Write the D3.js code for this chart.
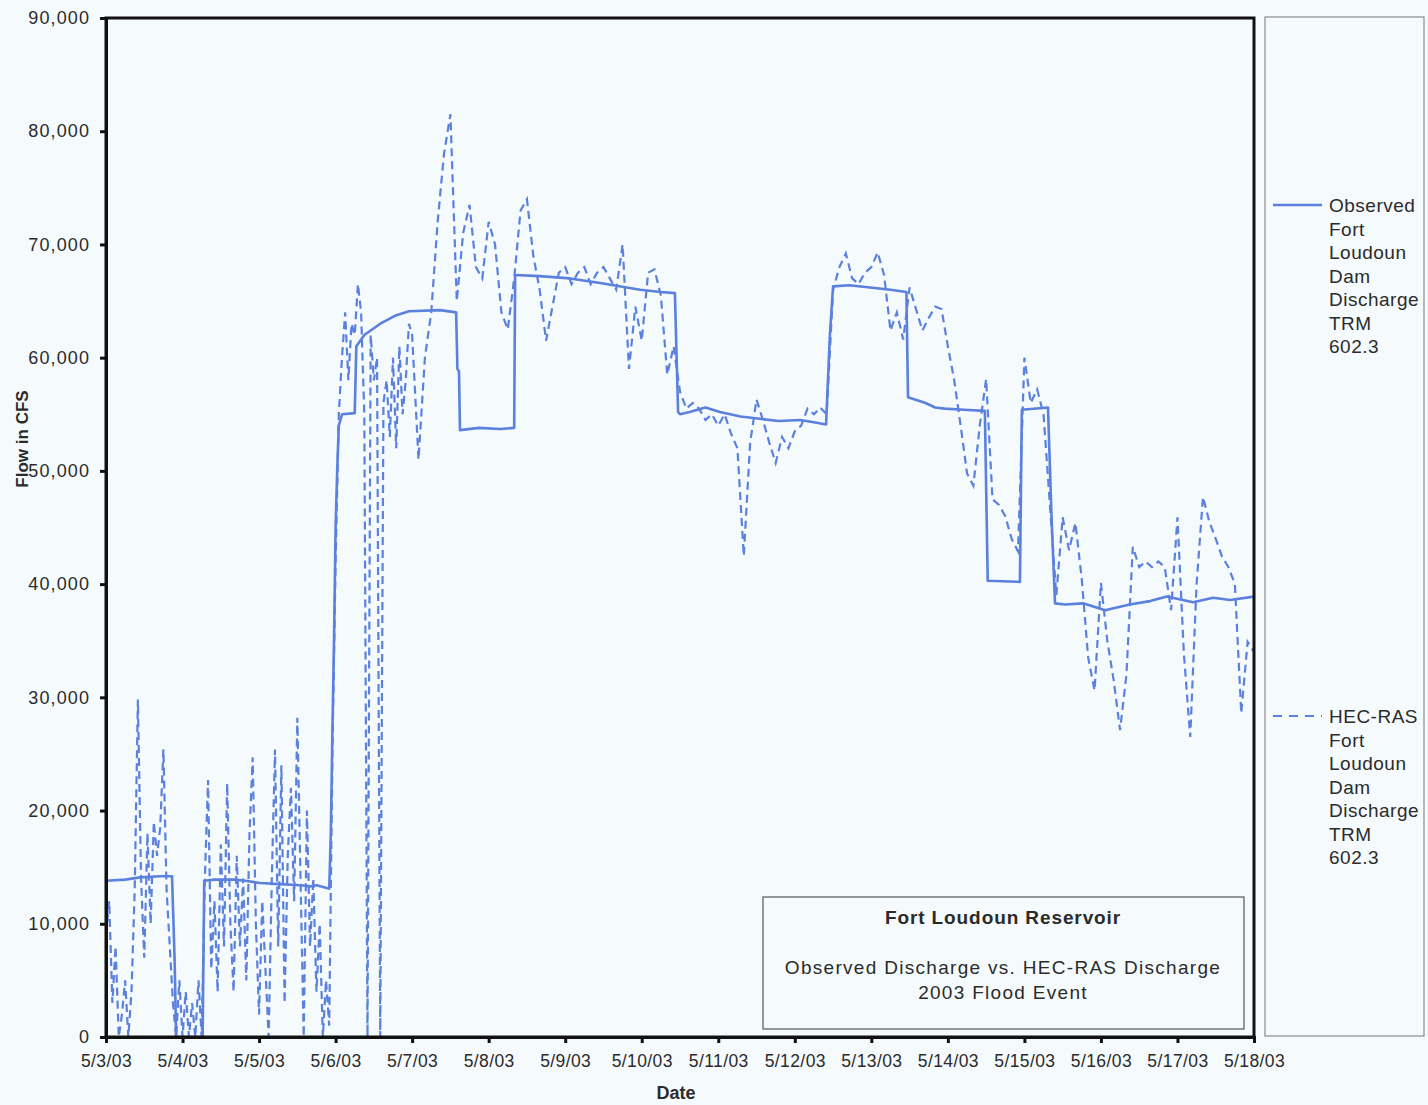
<!DOCTYPE html>
<html>
<head>
<meta charset="utf-8">
<script src="https://cdn.jsdelivr.net/npm/d3@7"></script>
<style>
  html, body { margin: 0; padding: 0; background: #f5fafc; }
  svg { display: block; }
  text { font-family: "Liberation Sans", Arial, sans-serif; fill: #2b2b2b; }
</style>
</head>
<body>
<svg id="chart" width="1428" height="1105"></svg>
<script>
// Date tick labels, one per day (hours since 5/3/03 00:00 = index * 24)
const dateLabels = ["5/3/03","5/4/03","5/5/03","5/6/03","5/7/03","5/8/03","5/9/03","5/10/03",
  "5/11/03","5/12/03","5/13/03","5/14/03","5/15/03","5/16/03","5/17/03","5/18/03"];
const flowTicks = [0, 10000, 20000, 30000, 40000, 50000, 60000, 70000, 80000, 90000];

// Observed Fort Loudoun Dam discharge: hours since start, flow in CFS
const obsHours = [
  0, 6, 10.7, 17, 20.7, 21.5, 22,
  30.3, 30.8, 34, 40.5, 43.6,
  48.3, 54.6, 61, 64, 66, 68.7, 70, 70.5, 71, 71.5,
  72, 72.5, 73, 74, 78, 78.5, 81, 86, 90.6, 95,
  104.7, 109.8, 110.2, 110.7, 111, 117,
  123.6, 128, 128.3, 136,
  145.5, 155, 161, 167.5,
  174, 178.4, 179.4, 180, 183, 188,
  192.5, 199, 205, 211,
  217.6, 222, 225.8, 227, 228, 233,
  239.6, 246, 251, 251.5, 257, 260,
  263, 269, 275.6, 276.5, 286.6, 287.2,
  295.4, 296.5, 297.6, 300.7, 306.4,
  313.3, 321, 327.4, 332.7,
  340.9, 347.2, 352.5, 360
];
const obsFlow = [
  13800, 13900, 14100, 14200, 14200, 7000, 0,
  0, 13800, 13900, 13900, 13800,
  13600, 13500, 13400, 13300, 13400, 13200, 13100, 18000, 27000, 35000,
  45000, 50000, 54000, 55000, 55100, 61000, 62000, 63000, 63700, 64100,
  64200, 64000, 59000, 58800, 53600, 53800,
  53700, 53800, 67300, 67200,
  67000, 66600, 66300, 66000,
  65800, 65700, 55200, 55000, 55200, 55600,
  55200, 54800, 54600, 54400,
  54500, 54300, 54100, 62000, 66300, 66400,
  66200, 66000, 65800, 56500, 56000, 55600,
  55500, 55400, 55300, 40300, 40200, 55400,
  55600, 46000, 38300, 38200, 38300,
  37700, 38200, 38500, 38900,
  38400, 38800, 38600, 38900
];

// HEC-RAS computed discharge: hourly through 5/6/03, then every 2 hours (CFS)
const hecHours = d3.range(0, 96).concat(d3.range(96, 361, 2));
const hecFlow = [
  // 5/3/03, hourly
  9000, 12000, 3000, 8000, 0, 2000, 5000, 0, 4000, 13000, 29800, 14000,
  7000, 18000, 10000, 19000, 16000, 18500, 25400, 13000, 8000, 3000, 0, 5000,
  // 5/4/03, hourly
  0, 4000, 0, 3000, 0, 5000, 0, 14000, 22700, 6000, 12000, 4000,
  17000, 8000, 22400, 10000, 4000, 16000, 8000, 14000, 5000, 18000, 24700, 10000,
  // 5/5/03, hourly
  2000, 12000, 6000, 0, 14000, 25400, 8000, 24000, 3000, 16000, 22000, 12000,
  28200, 14000, 0, 20000, 8000, 14000, 4000, 10000, 0, 5000, 1000, 25000,
  // 5/6/03, hourly
  42000, 55000, 60000, 64000, 58000, 63000, 62000, 66500, 64000, 55000, 0, 62000,
  58000, 60000, 0, 56000, 58000, 53000, 60000, 52000, 61000, 55000, 58000, 63000,
  // 5/7/03 onward, every 2 hours
  62000, 51000, 60000, 64000, 72000, 78000, 81500, 65000, 71000, 73500, 68000, 67000,
  72000, 70000, 64000, 62500, 67000, 73000, 74000, 69000, 66000, 61500, 64500, 67500,
  68000, 66500, 67500, 68000, 66500, 67500, 68000, 67000, 66000, 70000, 59000, 64500,
  61500, 67500, 67800, 65500, 58500, 61000, 57000, 55500, 56000, 55500, 54500, 55000,
  54000, 55000, 53300, 52000, 42500, 52500, 56300, 54500, 52500, 50700, 53000, 52000,
  53500, 54000, 55500, 55000, 55600, 55000, 66000, 68000, 69200, 67000, 66500, 67500,
  68000, 69300, 67300, 62400, 64000, 61600, 66200, 64300, 62400, 63500, 64500, 64300,
  61000, 58000, 54000, 49800, 48700, 54000, 58100, 47500, 47000, 46000, 44000, 42900,
  60000, 56000, 57200, 55000, 47000, 39000, 45900, 43000, 45400, 40400, 33500, 30600,
  40100, 35000, 31500, 27100, 32000, 43300, 41500, 42000, 41500, 42000, 41500, 37700,
  45900, 33900, 26500, 40000, 47700, 45500, 44000, 42400, 41500, 40000, 28600, 34900, 34000
];

const legendObserved = ["Observed", "Fort", "Loudoun", "Dam", "Discharge", "TRM", "602.3"];
const legendHec = ["HEC-RAS", "Fort", "Loudoun", "Dam", "Discharge", "TRM", "602.3"];
const titleLines = ["Observed Discharge vs. HEC-RAS Discharge", "2003 Flood Event"];

const lineColor = "#5b80dd";
const svg = d3.select("#chart");

const plot = { left: 106, right: 1254, top: 18, bottom: 1037 };
const x = d3.scaleLinear().domain([0, 360]).range([plot.left, plot.right]);
const y = d3.scaleLinear().domain([0, 90000]).range([plot.bottom, plot.top]);

svg.append("rect").attr("width", 1428).attr("height", 1105).attr("fill", "#f5fafc");

svg.append("defs").append("clipPath").attr("id", "plotClip")
  .append("rect")
  .attr("x", plot.left).attr("y", plot.top)
  .attr("width", plot.right - plot.left).attr("height", plot.bottom - plot.top);

// Series
const obsData = obsHours.map((h, i) => [h, obsFlow[i]]);
const hecData = hecFlow.map((v, i) => [hecHours[i], v]);
const line = d3.line().x(d => x(d[0])).y(d => y(d[1]));

const series = svg.append("g").attr("clip-path", "url(#plotClip)");
series.append("path").datum(hecData)
  .attr("d", line).attr("fill", "none")
  .attr("stroke", lineColor).attr("stroke-width", 2.2)
  .attr("stroke-dasharray", "8,5");
series.append("path").datum(obsData)
  .attr("d", line).attr("fill", "none")
  .attr("stroke", lineColor).attr("stroke-width", 2.6)
  .attr("stroke-linejoin", "round");

// Frame
svg.append("rect")
  .attr("x", plot.left).attr("y", plot.top)
  .attr("width", plot.right - plot.left).attr("height", plot.bottom - plot.top)
  .attr("fill", "none").attr("stroke", "#111").attr("stroke-width", 3);

// Y axis
const yAxis = d3.axisLeft(y).tickValues(flowTicks).tickSize(6).tickPadding(10)
  .tickFormat(d3.format(","));
const gy = svg.append("g").attr("transform", `translate(${plot.left},0)`).call(yAxis);
gy.select(".domain").attr("stroke", "#111").attr("stroke-width", 3);
gy.selectAll(".tick line").attr("stroke", "#111").attr("stroke-width", 3);
gy.selectAll(".tick text")
  .attr("font-size", 18).attr("letter-spacing", "1.1px").attr("fill", "#333");

// X axis
const xAxis = d3.axisBottom(x).tickValues(d3.range(0, 361, 24)).tickSize(6).tickPadding(12)
  .tickFormat((d, i) => dateLabels[i]);
const gx = svg.append("g").attr("transform", `translate(0,${plot.bottom})`).call(xAxis);
gx.select(".domain").attr("stroke", "#111").attr("stroke-width", 3);
gx.selectAll(".tick line").attr("stroke", "#111").attr("stroke-width", 3);
gx.selectAll(".tick text")
  .attr("font-size", 17.5).attr("letter-spacing", "0.4px").attr("fill", "#333");

// Axis titles
svg.append("text").attr("x", 676).attr("y", 1099)
  .attr("text-anchor", "middle").attr("font-size", 18).attr("font-weight", "bold")
  .text("Date");
svg.append("text").attr("transform", "translate(28,439) rotate(-90)")
  .attr("text-anchor", "middle").attr("font-size", 17).attr("font-weight", "bold")
  .text("Flow in CFS");

// Title box
svg.append("rect").attr("x", 763).attr("y", 897).attr("width", 481).attr("height", 132)
  .attr("fill", "#f5fafc").attr("stroke", "#555").attr("stroke-width", 1.2);
svg.append("text").attr("x", 1003).attr("y", 924)
  .attr("text-anchor", "middle").attr("font-size", 19).attr("font-weight", "bold")
  .attr("letter-spacing", "0.9px").text("Fort Loudoun Reservoir");
titleLines.forEach((t, i) => {
  svg.append("text").attr("x", 1003).attr("y", 974 + i * 25)
    .attr("text-anchor", "middle").attr("font-size", 19)
    .attr("letter-spacing", "1.3px").text(t);
});

// Legend
svg.append("rect").attr("x", 1265).attr("y", 17).attr("width", 159).attr("height", 1019)
  .attr("fill", "#f5fafc").attr("stroke", "#8a8a8a").attr("stroke-width", 1.2);

function legendItem(top, labels, dashed) {
  svg.append("line").attr("x1", 1273).attr("x2", 1322).attr("y1", top).attr("y2", top)
    .attr("stroke", lineColor).attr("stroke-width", dashed ? 2.2 : 2.6)
    .attr("stroke-dasharray", dashed ? "9,7" : null);
  labels.forEach((t, i) => {
    svg.append("text").attr("x", 1329).attr("y", top + 7 + i * 23.5)
      .attr("font-size", 19).attr("letter-spacing", "0.5px").attr("fill", "#333").text(t);
  });
}
legendItem(205, legendObserved, false);
legendItem(716, legendHec, true);
</script>
</body>
</html>
